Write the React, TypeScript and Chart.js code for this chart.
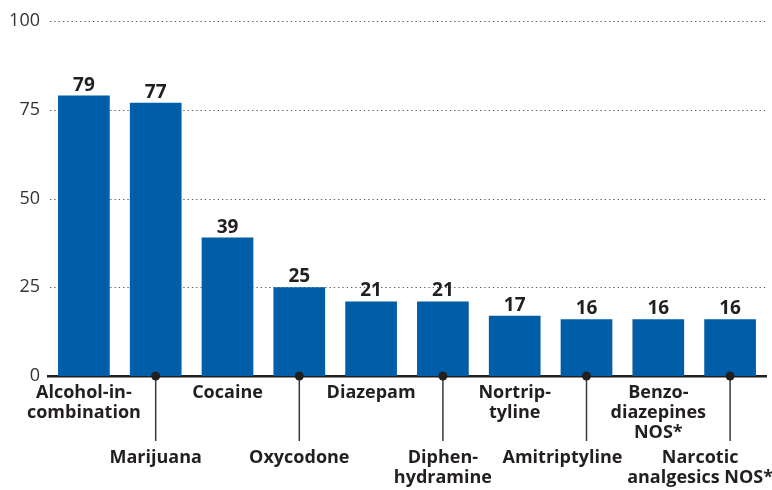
import React, { useEffect, useRef } from "react";
import { Chart, registerables } from "chart.js";

Chart.register(...registerables);

const categories: string[][] = [
  ["Alcohol-in-", "combination"],
  ["Marijuana"],
  ["Cocaine"],
  ["Oxycodone"],
  ["Diazepam"],
  ["Diphen-", "hydramine"],
  ["Nortrip-", "tyline"],
  ["Amitriptyline"],
  ["Benzo-", "diazepines", "NOS*"],
  ["Narcotic", "analgesics NOS*"],
];
const values: number[] = [79, 77, 39, 25, 21, 21, 17, 16, 16, 16];
const yTicks: number[] = [0, 25, 50, 75, 100];

const FONT = "'Open Sans', 'DejaVu Sans', sans-serif";
const TEXT = "#231f20";
const BAR = "#005ea8";
// horizontal nudges of label text (style only) to avoid collisions
const LABEL_SHIFT: Record<number, number> = { 7: -24, 9: -30 };

const gridPlugin = {
  id: "dottedGrid",
  beforeDatasetsDraw(chart: any) {
    const ctx = chart.ctx;
    const y = chart.scales.y;
    const { left, right } = chart.chartArea;
    ctx.save();
    ctx.strokeStyle = "#5a5a5a";
    ctx.lineWidth = 1;
    ctx.setLineDash([1.3, 3]);
    yTicks.forEach((v) => {
      if (v === 0) return;
      const py = Math.round(y.getPixelForValue(v)) + 0.5;
      ctx.beginPath();
      ctx.moveTo(left + 2, py);
      ctx.lineTo(right, py);
      ctx.stroke();
    });
    ctx.restore();
  },
};

const labelPlugin = {
  id: "customLabels",
  afterDraw(chart: any) {
    const ctx = chart.ctx;
    const meta = chart.getDatasetMeta(0);
    const axisY = chart.scales.y.getPixelForValue(0);
    ctx.save();
    ctx.font = `bold 19px ${FONT}`;
    ctx.fillStyle = TEXT;
    ctx.textAlign = "center";
    ctx.textBaseline = "alphabetic";
    meta.data.forEach((bar: any, i: number) => {
      ctx.fillText(String(values[i]), bar.x, bar.y - 5);
    });
    ctx.font = `bold 18px ${FONT}`;
    ctx.textBaseline = "middle";
    meta.data.forEach((bar: any, i: number) => {
      const lines = categories[i];
      const lower = i % 2 === 1;
      const startY = lower ? 458 : 393;
      const cx = bar.x + (LABEL_SHIFT[i] || 0);
      if (lower) {
        ctx.strokeStyle = "#3a3a3a";
        ctx.lineWidth = 1.5;
        ctx.beginPath();
        ctx.moveTo(bar.x, axisY);
        ctx.lineTo(bar.x, 441);
        ctx.stroke();
        ctx.fillStyle = TEXT;
        ctx.beginPath();
        ctx.arc(bar.x, axisY, 4.5, 0, Math.PI * 2);
        ctx.fill();
      }
      ctx.fillStyle = TEXT;
      lines.forEach((l, k) => {
        ctx.fillText(l, cx, startY + k * 20);
      });
    });
    ctx.restore();
  },
};

export default function App() {
  const ref = useRef<HTMLCanvasElement>(null);
  useEffect(() => {
    if (!ref.current) return;
    const chart = new Chart(ref.current, {
      type: "bar",
      data: {
        labels: categories.map((c) => c.join(" ")),
        datasets: [
          {
            data: values,
            backgroundColor: BAR,
            categoryPercentage: 1,
            barPercentage: 0.72,
          },
        ],
      },
      options: {
        animation: false,
        responsive: false,
        maintainAspectRatio: false,
        layout: { padding: { top: 21, right: 6, bottom: 114, left: 0 } },
        plugins: { legend: { display: false }, tooltip: { enabled: false } },
        scales: {
          x: {
            ticks: { display: false },
            grid: { display: false, drawTicks: false },
            border: { display: true, color: "#231f20", width: 2.5 },
          },
          y: {
            min: 0,
            max: 100,
            afterBuildTicks: (scale: any) => {
              scale.ticks = yTicks.map((v) => ({ value: v }));
            },
            afterFit: (scale: any) => {
              scale.width = 48;
            },
            ticks: {
              font: { family: FONT, size: 18 },
              color: "#333333",
              padding: 8,
            },
            grid: { display: false, drawTicks: false },
            border: { display: false },
          },
        },
      },
      plugins: [gridPlugin, labelPlugin],
    });
    return () => chart.destroy();
  }, []);
  return (
    <div style={{ position: "absolute", left: 0, top: 0, width: 772, height: 490, background: "#fff" }}>
      <canvas ref={ref} width={772} height={490} style={{ width: 772, height: 490 }} />
    </div>
  );
}
